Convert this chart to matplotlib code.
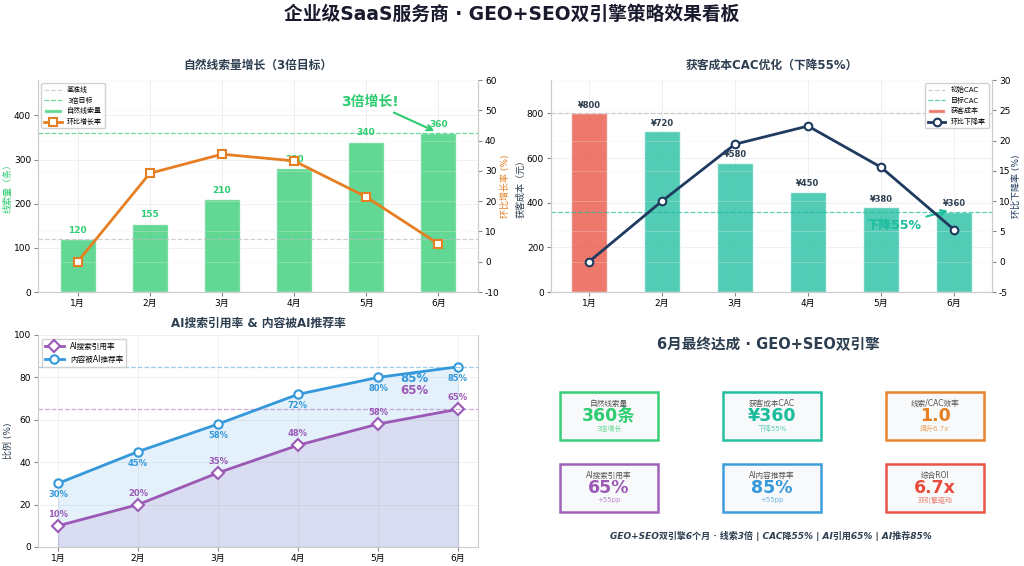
"""GEO+SEO 双引擎策略效果看板 — 2x2 dashboard."""
import matplotlib
matplotlib.use("Agg")
import matplotlib.pyplot as plt
from matplotlib.patches import Rectangle

plt.rcParams["font.family"] = ["DejaVu Sans", "Noto Sans CJK SC"]
plt.rcParams["axes.unicode_minus"] = False

MONTHS = ["1月", "2月", "3月", "4月", "5月", "6月"]
LEADS = [120, 155, 210, 280, 340, 360]
LEAD_GROWTH = [0, 29.2, 35.5, 33.3, 21.4, 5.9]
CAC = [800, 720, 580, 450, 380, 360]
CAC_DROP = [0, 10.0, 19.4, 22.4, 15.6, 5.3]
AI_CITE = [10, 20, 35, 48, 58, 65]
AI_RECO = [30, 45, 58, 72, 80, 85]

CARD_LABELS = ["自然线索量", "获客成本CAC", "线索/CAC效率", "AI搜索引用率", "AI内容推荐率", "综合ROI"]
CARD_VALUES = ["360条", "¥360", "1.0", "65%", "85%", "6.7x"]
CARD_SUBS = ["3倍增长", "下降55%", "提升6.7x", "+55pp", "+55pp", "双引擎驱动"]
CARD_COLORS = ["#2ecc71", "#1abc9c", "#e67e22", "#9b59b6", "#3498db", "#e74c3c"]

GREEN, TEAL, ORANGE = "#2ecc71", "#1abc9c", "#e67e22"
PURPLE, BLUE, RED, NAVY = "#9b59b6", "#3498db", "#e74c3c", "#1f3a5f"
DARK = "#2c3e50"

W, H = 1024, 566


def px_axes(fig, l, t, r, b):
    return fig.add_axes([l / W, 1 - b / H, (r - l) / W, (b - t) / H])


def style(ax):
    for s in ax.spines.values():
        s.set_color("#cccccc")
        s.set_linewidth(0.8)
    ax.spines["top"].set_visible(False)
    ax.tick_params(labelsize=6.5, length=3, pad=2, color="#888888")
    ax.grid(True, color="#dddddd", alpha=0.5, linewidth=0.6)
    ax.set_axisbelow(True)


fig = plt.figure(figsize=(W / 100, H / 100), dpi=100)
fig.patch.set_facecolor("white")
fig.text(0.5, 1 - 14 / H, "企业级SaaS服务商 · GEO+SEO双引擎策略效果看板",
         ha="center", va="center", fontsize=13.5, fontweight="bold", color="#1a1a2e")

x = list(range(len(MONTHS)))

# --- top-left: leads
ax1 = px_axes(fig, 38, 80, 478, 292)
style(ax1)
ax1.axhline(LEADS[0], color="#bbbbbb", ls="--", lw=0.9, alpha=0.7, label="基准线")
ax1.axhline(LEADS[0] * 3, color=GREEN, ls="--", lw=0.9, alpha=0.7, label="3倍目标")
ax1.bar(x, LEADS, width=0.5, color=GREEN, alpha=0.75, edgecolor="white",
        linewidth=1, label="自然线索量")
for xi, v in zip(x, LEADS):
    ax1.text(xi, v + 10, str(v), ha="center", va="bottom", fontsize=6.5,
             fontweight="bold", color=GREEN)
ax1.set_ylim(0, 480)
ax1.set_xlim(-0.55, 5.55)
ax1.set_xticks(x)
ax1.set_xticklabels(MONTHS)
ax1.set_yticks([0, 100, 200, 300, 400])
ax1.set_ylabel("线索量（条）", fontsize=6.5, color=GREEN, labelpad=1)
ax1.set_title("自然线索量增长（3倍目标）", fontsize=8.5, fontweight="bold", color=DARK, pad=8)
ax1.annotate("3倍增长!", xy=(4.98, 362), xytext=(4.05, 431), ha="center", va="center",
             fontsize=10, fontweight="bold", color=GREEN,
             arrowprops=dict(arrowstyle="->", color=GREEN, lw=1.5))
ax1b = ax1.twinx()
style(ax1b)
ax1b.grid(True, color="#eeeeee", alpha=0.4, linewidth=0.5)
ax1b.plot(x, LEAD_GROWTH, color=ORANGE, lw=2, marker="s", markersize=5.5,
          markerfacecolor="white", markeredgewidth=1.5, label="环比增长率")
ax1b.set_ylim(-10, 60)
ax1b.set_ylabel("环比增长率 (%)", fontsize=6.5, color=ORANGE, labelpad=1)
h1, l1 = ax1.get_legend_handles_labels()
h2, l2 = ax1b.get_legend_handles_labels()
ax1b.legend(h1 + h2, l1 + l2, loc="upper left", fontsize=5, framealpha=0.9,
            edgecolor="#cccccc", handlelength=2.5)

# --- top-right: CAC
ax2 = px_axes(fig, 551, 80, 992, 292)
style(ax2)
colors = [RED] + [TEAL] * (len(CAC) - 1)
ax2.axhline(CAC[0], color="#bbbbbb", ls="--", lw=0.9, alpha=0.7, label="初始CAC")
ax2.axhline(CAC[-1], color=TEAL, ls="--", lw=0.9, alpha=0.7, label="目标CAC")
ax2.bar(x, CAC, width=0.5, color=colors, alpha=0.75, edgecolor="white", linewidth=1,
        label="获客成本")
for xi, v in zip(x, CAC):
    ax2.text(xi, v + 15, f"¥{v}", ha="center", va="bottom", fontsize=6,
             fontweight="bold", color=DARK)
ax2.set_ylim(0, 950)
ax2.set_xlim(-0.52, 5.52)
ax2.set_xticks(x)
ax2.set_xticklabels(MONTHS)
ax2.set_yticks([0, 200, 400, 600, 800])
ax2.set_ylabel("获客成本（元）", fontsize=6.5, color=DARK, labelpad=1)
ax2.set_title("获客成本CAC优化（下降55%）", fontsize=8.5, fontweight="bold", color=DARK, pad=8)
ax2.annotate("下降55%", xy=(4.95, 368), xytext=(4.17, 297), ha="center", va="center",
             fontsize=9, fontweight="bold", color=TEAL,
             arrowprops=dict(arrowstyle="->", color=TEAL, lw=1.5))
ax2b = ax2.twinx()
style(ax2b)
ax2b.grid(True, color="#eeeeee", alpha=0.4, linewidth=0.5)
ax2b.plot(x, CAC_DROP, color=NAVY, lw=2, marker="o", markersize=5.5,
          markerfacecolor="white", markeredgewidth=1.5, label="环比下降率")
ax2b.set_ylim(-5, 30)
ax2b.set_ylabel("环比下降率 (%)", fontsize=6.5, color=NAVY, labelpad=1)
h1, l1 = ax2.get_legend_handles_labels()
h2, l2 = ax2b.get_legend_handles_labels()
ax2b.legend(h1 + h2, l1 + l2, loc="upper right", fontsize=5, framealpha=0.9,
            edgecolor="#cccccc", handlelength=2.5)

# --- bottom-left: AI rates
ax3 = px_axes(fig, 38, 335, 478, 547)
style(ax3)
ax3.fill_between(x, 0, AI_RECO, color=BLUE, alpha=0.13)
ax3.fill_between(x, 0, AI_CITE, color=PURPLE, alpha=0.13)
ax3.plot(x, AI_CITE, color=PURPLE, lw=2, marker="D", markersize=6,
         markerfacecolor="white", markeredgewidth=1.5, label="AI搜索引用率")
ax3.plot(x, AI_RECO, color=BLUE, lw=2, marker="o", markersize=6,
         markerfacecolor="white", markeredgewidth=1.5, label="内容被AI推荐率")
ax3.axhline(AI_RECO[-1], color=BLUE, ls="--", lw=0.9, alpha=0.5)
ax3.axhline(AI_CITE[-1], color=PURPLE, ls="--", lw=0.9, alpha=0.5)
for xi, v in zip(x, AI_CITE):
    ax3.annotate(f"{v}%", (xi, v), xytext=(0, 5), textcoords="offset points",
                 ha="center", va="bottom", fontsize=6, fontweight="bold", color=PURPLE)
for xi, v in zip(x, AI_RECO):
    ax3.annotate(f"{v}%", (xi, v), xytext=(0, -5), textcoords="offset points",
                 ha="center", va="top", fontsize=6, fontweight="bold", color=BLUE)
ax3.text(4.45, 79.7, f"{AI_RECO[-1]}%", ha="center", va="center", fontsize=8.5,
         fontweight="bold", color=BLUE)
ax3.text(4.45, 73.7, f"{AI_CITE[-1]}%", ha="center", va="center", fontsize=8.5,
         fontweight="bold", color=PURPLE)
ax3.set_ylim(0, 100)
ax3.set_xlim(-0.25, 5.25)
ax3.set_xticks(x)
ax3.set_xticklabels(MONTHS)
ax3.set_ylabel("比例 (%)", fontsize=6.5, color=DARK, labelpad=1)
ax3.set_title("AI搜索引用率 & 内容被AI推荐率", fontsize=8.5, fontweight="bold", color=DARK, pad=6)
ax3.legend(loc="upper left", fontsize=5.5, framealpha=0.9, edgecolor="#cccccc",
           handlelength=2.5)

# --- bottom-right: summary cards
ax4 = px_axes(fig, 512, 320, 1024, 566)
ax4.set_xlim(512, 1024)
ax4.set_ylim(566, 320)
ax4.axis("off")
ax4.text(768, 345, "6月最终达成 · GEO+SEO双引擎", ha="center", va="center",
         fontsize=10.5, fontweight="bold", color=DARK)
centers_x = [609, 772, 935]
centers_y = [416, 488]
for i, (lab, val, sub, c) in enumerate(zip(CARD_LABELS, CARD_VALUES, CARD_SUBS, CARD_COLORS)):
    cx = centers_x[i % 3]
    cy = centers_y[i // 3]
    ax4.add_patch(Rectangle((cx - 49, cy - 24), 98, 48, facecolor="#f8f9fa",
                            edgecolor=c, linewidth=1.8, alpha=0.95))
    ax4.text(cx, cy - 12.5, lab, ha="center", va="center", fontsize=5.5, color="#555555")
    ax4.text(cx, cy, val, ha="center", va="center", fontsize=12.5, fontweight="bold", color=c)
    ax4.text(cx, cy + 12.5, sub, ha="center", va="center", fontsize=5, color=c, alpha=0.7)
ax4.text(771, 536, "GEO+SEO双引擎6个月 · 线索3倍 | CAC降55% | AI引用65% | AI推荐85%",
         ha="center", va="center", fontsize=6.5, fontweight="bold", fontstyle="italic",
         color=DARK)

fig.savefig("out.png", dpi=100)
